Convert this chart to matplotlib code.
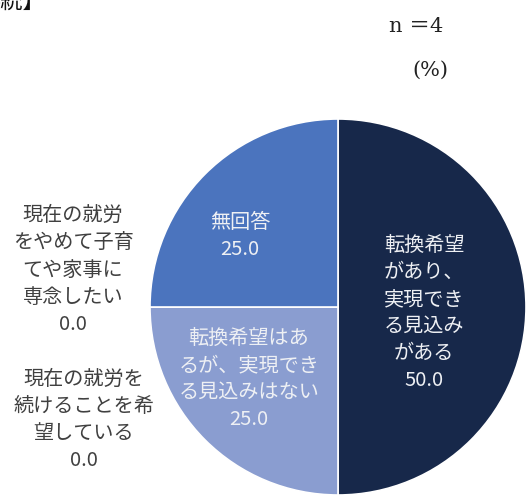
import matplotlib
matplotlib.use("Agg")
import matplotlib.pyplot as plt

plt.rcParams['font.family'] = ['Noto Sans CJK JP', 'DejaVu Sans']

categories = [
    "転換希望があり、実現できる見込みがある",
    "転換希望はあるが、実現できる見込みはない",
    "現在の就労を続けることを希望している",
    "現在の就労をやめて子育てや家事に専念したい",
    "無回答",
]
values = [50.0, 25.0, 0.0, 0.0, 25.0]
label_lines = [
    "転換希望\nがあり、\n実現でき\nる見込み\nがある",
    "転換希望はあ\nるが、実現でき\nる見込みはない",
    "現在の就労を\n続けることを希\n望している",
    "現在の就労\nをやめて子育\nてや家事に\n専念したい",
    "無回答",
]
colors = ["#17284a", "#8a9dd0", "#8a9dd0", "#4b74be", "#4b74be"]

W, H = 527, 500
fig = plt.figure(figsize=(W / 100, H / 100), dpi=100)
ax = fig.add_axes([0, 0, 1, 1])

cx, cy, r = 338, H - 307, 188
ax.pie(values, colors=colors, startangle=90, counterclock=False,
       center=(cx, cy), radius=r, frame=True,
       wedgeprops=dict(edgecolor='white', linewidth=1.2))
ax.set_xlim(0, W)
ax.set_ylim(0, H)
ax.set_aspect('equal')
ax.axis('off')

fs = 14.5
# inside labels
pos_in = {0: (424, H - 313), 1: (249, H - 379), 4: (240, H - 236)}
for i, (x, y) in pos_in.items():
    ax.text(x, y, f"{label_lines[i]}\n{values[i]:.1f}", ha='center', va='center',
            fontsize=fs, color='#eef0f4', linespacing=1.38)
# outside labels
pos_out = {3: (73, H - 270), 2: (84, H - 420)}
for i, (x, y) in pos_out.items():
    ax.text(x, y, f"{label_lines[i]}\n{values[i]:.1f}", ha='center', va='center',
            fontsize=fs, color='#404040', linespacing=1.38)

ax.text(416, H - 27, "n ＝4", ha='center', va='center', fontsize=15,
        family=['DejaVu Serif', 'Noto Sans CJK JP'], color='#222222')
ax.text(430, H - 70, "(%)", ha='center', va='center', fontsize=15,
        family=['DejaVu Serif'], color='#222222')
ax.text(45, H - 8, "系統】", ha='right', va='baseline', fontsize=16,
        color='#111111')

fig.savefig("out.png", dpi=100)
